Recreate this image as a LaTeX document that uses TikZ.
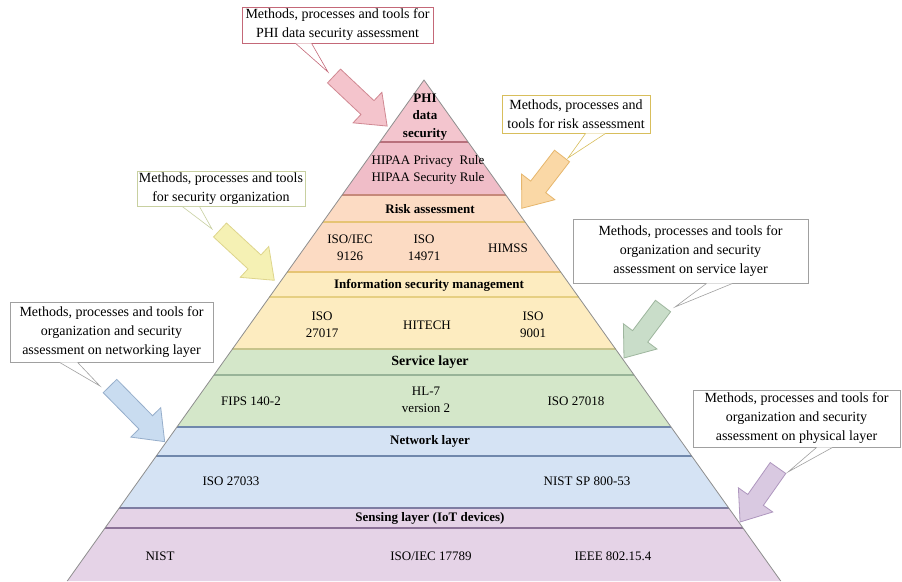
\documentclass[tikz,border=0pt]{standalone}
\usepackage{fontspec}
\setmainfont{Liberation Serif}
\usetikzlibrary{calc}
\definecolor{phiC}{HTML}{F3C5CE}
\definecolor{phiD}{HTML}{F0BDC8}
\definecolor{phiL}{HTML}{B8707C}
\definecolor{riskC}{HTML}{FCDBC3}
\definecolor{riskL}{HTML}{E6C474}
\definecolor{infoC}{HTML}{FDECC0}
\definecolor{infoL}{HTML}{E6CF82}
\definecolor{servC}{HTML}{D4E7C9}
\definecolor{servL}{HTML}{98B498}
\definecolor{netC}{HTML}{D5E3F4}
\definecolor{netL}{HTML}{7088AC}
\definecolor{senC}{HTML}{E5D3E7}
\definecolor{senL}{HTML}{8C7298}
\definecolor{edgeC}{HTML}{8E8E8E}
\definecolor{b1C}{HTML}{C46878}
\definecolor{b2C}{HTML}{D8BE5C}
\definecolor{b3C}{HTML}{C8D0A0}
\definecolor{b4C}{HTML}{A0A0A0}
\definecolor{a1F}{HTML}{F4C4CC}\definecolor{a1D}{HTML}{D08892}
\definecolor{a2F}{HTML}{FAD8A6}\definecolor{a2D}{HTML}{E6B66C}
\definecolor{a3F}{HTML}{F5F1B4}\definecolor{a3D}{HTML}{DED58C}
\definecolor{a4F}{HTML}{C9DDC9}\definecolor{a4D}{HTML}{9EB69E}
\definecolor{a5F}{HTML}{C9DCF0}\definecolor{a5D}{HTML}{96AECB}
\definecolor{a6F}{HTML}{D9C9E1}\definecolor{a6D}{HTML}{AE96BE}
\newcommand\pax{424}
\newcommand\pay{80}
\newcommand\pslope{0.712}
\newcommand\pyrband[3]{\fill[#3] ({\pax-\pslope*(#1-\pay)},#1) -- ({\pax+\pslope*(#1-\pay)},#1) -- ({\pax+\pslope*(#2-\pay)},#2) -- ({\pax-\pslope*(#2-\pay)},#2) -- cycle;}
\newcommand\pyrline[2]{\draw[#2,line width=1.1pt] ({\pax-\pslope*(#1-\pay)},#1) -- ({\pax+\pslope*(#1-\pay)},#1);}
\newcommand\blockarrow[5]{\begin{scope}[shift={#1},rotate=#2]\filldraw[fill=#4,draw=#5,line width=0.8pt,line join=miter] (0,-9.5) -- ({#3-27},-9.5) -- ({#3-27},-21) -- (#3,0) -- ({#3-27},21) -- ({#3-27},9.5) -- (0,9.5) -- cycle;\end{scope}}
\begin{document}
\begin{tikzpicture}[x=1pt,y=-1pt,
  font=\fontsize{13}{17.5}\selectfont,
  txt/.style={align=center,inner sep=0pt},
  hdr/.style={align=center,inner sep=0pt,font=\fontsize{13}{17.5}\selectfont\bfseries},
  callout/.style={draw,fill=white,align=center,inner sep=1.5pt,line width=0.8pt,font=\fontsize{14}{19}\selectfont},
  ptr/.style={fill=white,line width=0.6pt}]
\useasboundingbox (0,0) rectangle (902,581);
\fill[white] (0,0) rectangle (902,581);
% pyramid bands
\pyrband{80}{142}{phiC}
\pyrband{142}{195}{phiD}
\pyrband{195}{272}{riskC}
\pyrband{272}{349}{infoC}
\pyrband{349}{427}{servC}
\pyrband{427}{508}{netC}
\pyrband{508}{581}{senC}
% lines
\pyrline{142}{phiL}
\pyrline{195}{phiL!70!riskL}
\pyrline{222}{riskL}
\pyrline{272}{riskL}
\pyrline{297}{infoL}
\pyrline{349}{infoL!60!servL}
\pyrline{375}{servL}
\pyrline{427}{netL}
\pyrline{456}{netL}
\pyrline{508}{netL!50!senL}
\pyrline{528}{senL}
\coordinate (apex) at (\pax,\pay);
\coordinate (bl) at ({\pax-\pslope*(581-\pay)},581);
\coordinate (br) at ({\pax+\pslope*(581-\pay)},581);
\draw[edgeC,line width=0.8pt] (bl) -- (apex) -- (br);
% pyramid texts
\node[hdr] (phi) at (425,117) {PHI\\data\\security};
\node[txt] (hipaa) at (428,170) {HIPAA Privacy\ \ Rule\\HIPAA Security Rule};
\node[hdr] (risk) at (430,209) {Risk assessment};
\node[txt] (iso9126) at (350,248) {ISO/IEC\\9126};
\node[txt] (iso14971) at (424,248) {ISO\\14971};
\node[txt] (himss) at (508,248) {HIMSS};
\node[hdr] (ism) at (429,285) {Information security management};
\node[txt] (iso27017) at (322,325) {ISO\\27017};
\node[txt] (hitech) at (427,325) {HITECH};
\node[txt] (iso9001) at (533,325) {ISO\\9001};
\node[hdr,font=\fontsize{14}{17}\selectfont\bfseries] (serv) at (430,362) {Service layer};
\node[txt] (fips) at (251,401) {FIPS 140-2};
\node[txt] (hl7) at (426,400) {HL-7\\version 2};
\node[txt] (iso27018) at (576,401) {ISO 27018};
\node[hdr] (net) at (430,441) {Network layer};
\node[txt] (iso27033) at (231,481) {ISO 27033};
\node[txt] (nist800) at (587,481) {NIST SP 800-53};
\node[hdr] (sens) at (430,518) {Sensing layer (IoT devices)};
\node[txt] (nist) at (160,556) {NIST};
\node[txt] (iso17789) at (431,556) {ISO/IEC 17789};
\node[txt] (ieee) at (613,556) {IEEE 802.15.4};
% block arrows
\blockarrow{(334,76)}{-43.3}{73}{a1F}{a1D}
\blockarrow{(562,156)}{-127.6}{66}{a2F}{a2D}
\blockarrow{(220,230)}{-42.8}{74}{a3F}{a3D}
\blockarrow{(663,306)}{-126.9}{65}{a4F}{a4D}
\blockarrow{(110,386)}{-45.5}{78}{a5F}{a5D}
\blockarrow{(778,468)}{-125.1}{66}{a6F}{a6D}
% callout boxes
\node[callout,draw=b1C,minimum width=191,minimum height=36] (c1) at (337.5,25) {Methods, processes and tools for\\PHI data security assessment};
\node[callout,draw=b2C,minimum width=148,minimum height=38] (c2) at (576,114) {Methods, processes and\\tools for risk assessment};
\node[callout,draw=b3C,minimum width=168,minimum height=34] (c3) at (221,189) {Methods, processes and tools\\for security organization};
\node[callout,draw=b4C,minimum width=235,minimum height=64] (c4) at (690.5,251) {Methods, processes and tools for\\organization and security\\assessment on service layer};
\node[callout,draw=b4C,minimum width=203,minimum height=60] (c5) at (111.5,332) {Methods, processes and tools for\\organization and security\\assessment on networking layer};
\node[callout,draw=b4C,minimum width=207,minimum height=57] (c6) at (796.5,418.5) {Methods, processes and tools for\\organization and security\\assessment on physical layer};
% pointers
\coordinate (t1) at (328,72);
\coordinate (t2) at (568,158);
\coordinate (t3) at (212,229);
\coordinate (t4) at (675,307);
\coordinate (t5) at (100,386);
\coordinate (t6) at (788,472);
\draw[ptr,draw=b1C] ($(c1.south west)+(54,0)$) -- (t1) -- ($(c1.south west)+(70,0)$);
\draw[ptr,draw=b2C] ($(c2.south west)+(84,0)$) -- (t2) -- ($(c2.south west)+(104,0)$);
\draw[ptr,draw=b3C] ($(c3.south west)+(46,0)$) -- (t3) -- ($(c3.south west)+(63,0)$);
\draw[ptr,draw=b4C] ($(c4.south west)+(134,0)$) -- (t4) -- ($(c4.south west)+(160,0)$);
\draw[ptr,draw=b4C] ($(c5.south west)+(50,0)$) -- (t5) -- ($(c5.south west)+(68,0)$);
\draw[ptr,draw=b4C] ($(c6.south west)+(124,0)$) -- (t6) -- ($(c6.south west)+(140,0)$);
\end{tikzpicture}
\end{document}
